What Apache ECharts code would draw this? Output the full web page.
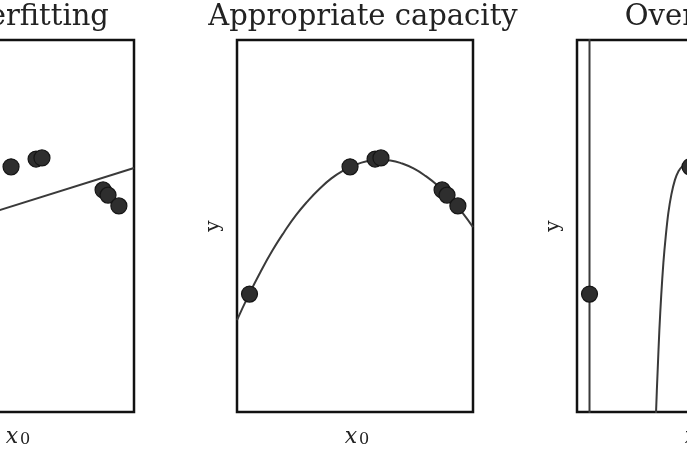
<!DOCTYPE html>
<html>
<head>
<meta charset="utf-8">
<script src="https://cdn.jsdelivr.net/npm/echarts@6/dist/echarts.min.js"></script>
<style>
html,body{margin:0;padding:0;background:#fff;}
#c{width:687px;height:455px;}
</style>
</head>
<body>
<div id="c"></div>
<script>
// Panel titles
const titles = ['Underfitting', 'Appropriate capacity', 'Overfitting'];
// Training points (x0, y), same in every panel
const pointX = [0.053, 0.479, 0.585, 0.610, 0.869, 0.890, 0.936];
const pointY = [0.317, 0.659, 0.680, 0.683, 0.597, 0.583, 0.554];
// Underfitting: linear fit
const linearX = [0, 1];
const linearY = [0.457, 0.656];
// Appropriate capacity: quadratic fit samples
const quadX = [0, 0.05, 0.1, 0.15, 0.2, 0.25, 0.3, 0.35, 0.4, 0.45, 0.5, 0.55, 0.6, 0.65, 0.7, 0.75, 0.8, 0.85, 0.9, 0.95, 1.0];
const quadY = [0.247, 0.315, 0.377, 0.434, 0.484, 0.529, 0.567, 0.600, 0.628, 0.649, 0.664, 0.674, 0.678, 0.676, 0.668, 0.654, 0.634, 0.609, 0.577, 0.540, 0.497];
// Overfitting: high-degree polynomial (two visible branches)
const overVertX = [0.053, 0.053];
const overVertY = [-0.2, 1.2];
const overCurveX = [0.332, 0.335, 0.342, 0.349, 0.357, 0.366, 0.376, 0.387, 0.400, 0.415, 0.430, 0.444, 0.465, 0.479, 0.52, 0.585, 0.61, 0.70, 0.80, 0.869, 0.890, 0.936, 1.0];
const overCurveY = [-0.1, 0.0, 0.115, 0.220, 0.315, 0.401, 0.472, 0.535, 0.585, 0.624, 0.647, 0.659, 0.669, 0.659, 0.650, 0.680, 0.683, 0.72, 0.70, 0.597, 0.583, 0.554, 0.45];

const zip = (xs, ys) => xs.map((x, i) => [x, ys[i]]);
const points = zip(pointX, pointY);

const gridLefts = [-102, 237, 577];
const titleShift = [4, 16, 20];
const W = 236, H = 372, TOP = 40;

const serif = 'DejaVu Serif';
const grids = gridLefts.map(l => ({
  left: l, top: TOP, width: W, height: H,
  containLabel: false, outerBoundsMode: 'none',
  show: true, borderColor: '#111', borderWidth: 2.5, backgroundColor: 'transparent'
}));

const xAxes = [], yAxes = [];
gridLefts.forEach((l, i) => {
  xAxes.push({
    type: 'value', gridIndex: i, min: 0, max: 1, position: 'bottom',
    axisLine: {show: false}, axisTick: {show: false}, axisLabel: {show: false}, splitLine: {show: false},
    name: '{x|x}{s|0}', nameLocation: 'middle', nameGap: 10,
    nameTextStyle: {
      padding: [0, 0, 0, 4],
      rich: {
        x: {fontFamily: serif, fontStyle: 'italic', fontSize: 22, color: '#222', verticalAlign: 'bottom'},
        s: {fontFamily: serif, fontSize: 16, color: '#222', padding: [10, 0, 0, 2]}
      }
    }
  });
  xAxes.push({
    type: 'value', gridIndex: i, min: 0, max: 1, position: 'top',
    axisLine: {show: false}, axisTick: {show: false}, axisLabel: {show: false}, splitLine: {show: false},
    name: titles[i], nameLocation: 'middle', nameGap: 8,
    nameTextStyle: {fontFamily: serif, fontSize: 29, color: '#222', padding: [0, 0, 0, titleShift[i]]}
  });
  yAxes.push({
    type: 'value', gridIndex: i, min: 0, max: 1,
    axisLine: {show: false}, axisTick: {show: false}, axisLabel: {show: false}, splitLine: {show: false},
    name: 'y', nameLocation: 'middle', nameGap: 13,
    nameTextStyle: {fontFamily: serif, fontSize: 20, color: '#222'}
  });
});

const lineStyle = {color: '#3a3a3a', width: 2};
const scatter = (i) => ({
  type: 'scatter', xAxisIndex: 2 * i, yAxisIndex: i, data: points, z: 5,
  symbolSize: 16, itemStyle: {color: '#2e2e2e', borderColor: '#151515', borderWidth: 1.2, opacity: 1}
});
const line = (i, data, smooth) => ({
  type: 'line', xAxisIndex: 2 * i, yAxisIndex: i, data: data, smooth: smooth,
  showSymbol: false, clip: true, lineStyle: lineStyle, z: 3, animation: false
});

const chart = echarts.init(document.getElementById('c'), null, {renderer: 'canvas'});
chart.setOption({
  animation: false,
  backgroundColor: '#fff',
  grid: grids,
  xAxis: xAxes,
  yAxis: yAxes,
  series: [
    line(0, zip(linearX, linearY), false),
    scatter(0),
    line(1, zip(quadX, quadY), true),
    scatter(1),
    line(2, zip(overVertX, overVertY), false),
    line(2, zip(overCurveX, overCurveY), 0.3),
    scatter(2)
  ]
});
</script>
</body>
</html>
